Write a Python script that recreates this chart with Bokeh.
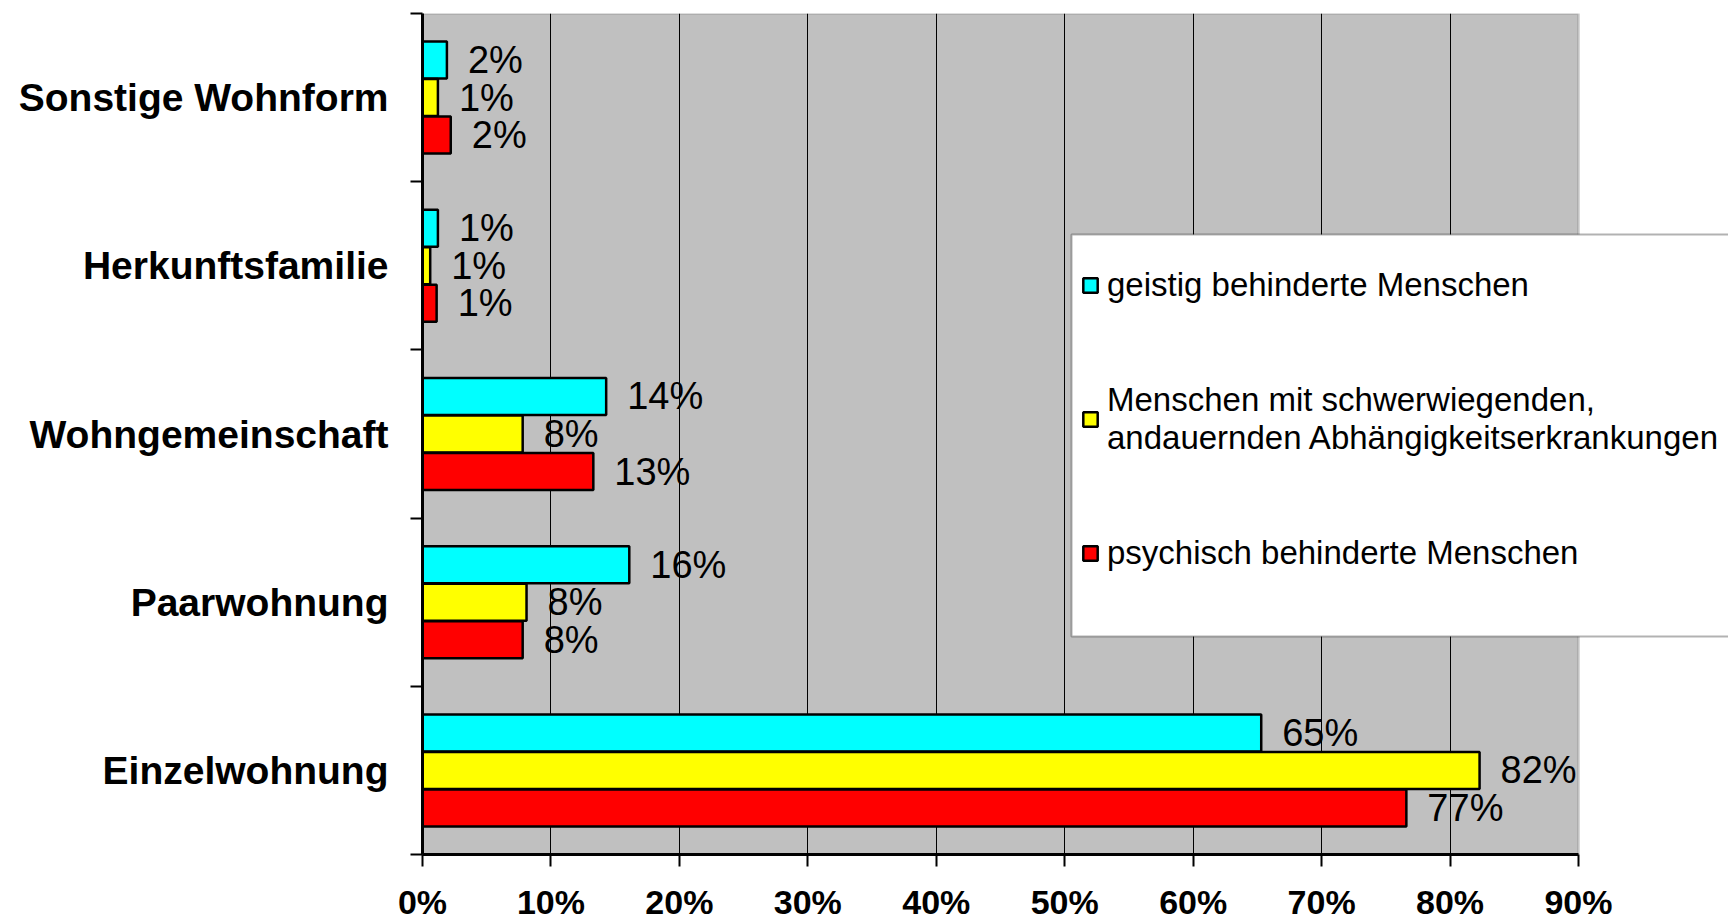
import numpy as np
from bokeh.plotting import figure
from bokeh.models import (Range1d, FixedTicker, PrintfTickFormatter, BoxAnnotation,
                          Legend, LegendItem, ColumnDataSource)
from bokeh.transform import dodge
from bokeh.core.properties import value
from bokeh.embed import file_html
from bokeh.resources import INLINE

# ---- data (bottom to top) ----
categories = ["Einzelwohnung", "Paarwohnung", "Wohngemeinschaft", "Herkunftsfamilie", "Sonstige Wohnform"]
series_names = [
    "geistig behinderte Menschen",
    "Menschen mit schwerwiegenden,\nandauernden Abhängigkeitserkrankungen",
    "psychisch behinderte Menschen",
]
geistig = [65.3, 16.1, 14.3, 1.2, 1.9]
sucht = [82.3, 8.1, 7.8, 0.6, 1.2]
psychisch = [76.6, 7.8, 13.3, 1.1, 2.2]
x_ticks = [0, 10, 20, 30, 40, 50, 60, 70, 80, 90]
colors = ["#00FFFF", "#FFFF00", "#FF0000"]

FONT = "Liberation Sans"

ypos = np.arange(len(categories)) + 0.5
src = ColumnDataSource(dict(
    y=ypos, cat=categories,
    g=geistig, s=sucht, p=psychisch,
    gl=[f"{round(v)}%" for v in geistig],
    sl=[f"{round(v)}%" for v in sucht],
    pl=[f"{round(v)}%" for v in psychisch],
))

p = figure(width=1728, height=924,
           y_range=Range1d(0, len(categories)),
           x_range=Range1d(0, 101.68),
           output_backend="svg", toolbar_location=None,
           min_border_left=422, min_border_right=0, min_border_top=13, min_border_bottom=70,
           background_fill_color="white", border_fill_color="white")
p.outline_line_color = None

# gray plot area
p.add_layout(BoxAnnotation(left=0, right=90, fill_color="#C0C0C0", fill_alpha=1,
                           line_color="#808080", line_width=3, level="image"))

# grid
p.xgrid.ticker = FixedTicker(ticks=x_ticks[1:-1])
p.xgrid.grid_line_color = "black"
p.xgrid.grid_line_width = 1
p.ygrid.visible = False

# x axis
xa = p.xaxis[0]
xa.ticker = FixedTicker(ticks=x_ticks)
xa.formatter = PrintfTickFormatter(format="%d%%")
xa.bounds = (0, 90)
xa.axis_line_color = "black"
xa.axis_line_width = 3
xa.major_tick_in = 0
xa.major_tick_out = 12
xa.major_tick_line_width = 2
xa.minor_tick_line_color = None
xa.major_label_text_font = FONT
xa.major_label_text_font_style = "bold"
xa.major_label_text_font_size = "34px"
xa.major_label_text_color = "black"
xa.major_label_standoff = 16

# y axis: labels at band centres, tick marks at band boundaries
ya = p.yaxis[0]
ya.ticker = FixedTicker(ticks=list(ypos), minor_ticks=list(range(len(categories) + 1)))
ya.major_label_overrides = {float(y): c for y, c in zip(ypos, categories)}
ya.axis_line_color = "black"
ya.axis_line_width = 3
ya.major_tick_line_color = None
ya.major_tick_in = 0
ya.major_tick_out = 12
ya.minor_tick_line_color = "black"
ya.minor_tick_line_width = 2
ya.minor_tick_in = 0
ya.minor_tick_out = 12
ya.major_label_text_font = FONT
ya.major_label_text_font_style = "bold"
ya.major_label_text_font_size = "39px"
ya.major_label_text_color = "black"
ya.major_label_standoff = 22

# bars + labels
offsets = [0.223, 0.0, -0.223]
cols = ["g", "s", "p"]
renderers = []
for col, off, color in zip(cols, offsets, colors):
    r = p.hbar(y=dodge("y", off), left=0, right=col, height=0.22,
               fill_color=color, line_color="black", line_width=2.5, source=src)
    renderers.append(r)
    p.text(x=col, y=dodge("y", off), text=col + "l", source=src,
           x_offset=21, text_baseline="middle", text_align="left",
           text_font=value(FONT), text_font_size="38px", text_color="black")

# legend frame
p.add_layout(BoxAnnotation(left=50.53, right=110, top=3.686, bottom=1.296,
                           fill_color="white", fill_alpha=1, line_color="black", line_width=2))

legend = Legend(items=[LegendItem(label=n, renderers=[r]) for n, r in zip(series_names, renderers)],
                location=(659, 282), label_text_font=FONT, label_text_font_size="33px",
                label_text_color="black", glyph_width=18, glyph_height=18, label_standoff=8,
                spacing=77, padding=0, margin=0, border_line_color=None,
                background_fill_alpha=0)
p.add_layout(legend)

open("out.html", "w").write(file_html(p, INLINE))
